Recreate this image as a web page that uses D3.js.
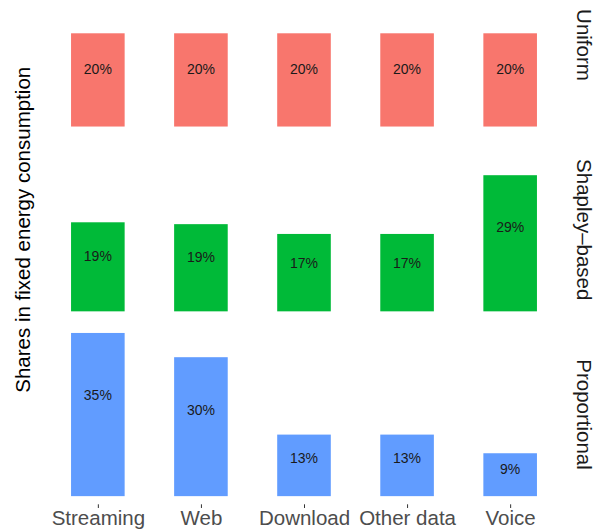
<!DOCTYPE html>
<html>
<head>
<meta charset="utf-8">
<script src="https://cdn.jsdelivr.net/npm/d3@7"></script>
<style>
  body { margin: 0; background: #fff; }
  text { font-family: "Liberation Sans", Arial, sans-serif; }
</style>
</head>
<body>
<svg id="chart"></svg>
<script>
// categories and facet rows
var services = ["Streaming", "Web", "Download", "Other data", "Voice"];
var methods = ["Uniform", "Shapley\u2013based", "Proportional"];
var colors = ["#F8766D", "#00BA38", "#619CFF"];

// shares
var uniform = [0.20, 0.20, 0.20, 0.20, 0.20];
var shapley = [0.191, 0.187, 0.166, 0.166, 0.292];
var proportional = [0.35, 0.298, 0.132, 0.132, 0.092];

var series = [uniform, shapley, proportional];

var config = {
  w: 597,
  h: 532,
  left: 36,
  right: 572,
  panelH: 179.5,
  gap: 5.3,
  firstTop: -44.8,
  barW: 0.52
};

var svg = d3.select("#chart")
  .attr("width", config.w)
  .attr("height", config.h);

// x positions like a discrete ggplot scale (0.6 expansion each side)
var x = d3.scalePoint()
  .domain(services)
  .range([config.left, config.right])
  .padding(0.6);

var bw = x.step() * config.barW;

// shared y scale, 5% expansion
var maxV = d3.max(series, function(s) { return d3.max(s); });
var pad = maxV * 0.05;
var y = d3.scaleLinear()
  .domain([-pad, maxV + pad])
  .range([config.panelH, 0]);

var fmt = d3.format(".0%");

methods.forEach(function(m, i) {
  var top = config.firstTop + i * (config.panelH + config.gap);
  var g = svg.append("g")
    .attr("transform", "translate(0," + top + ")");

  var rows = services.map(function(s, j) {
    return { name: s, value: series[i][j] };
  });

  g.selectAll("rect")
    .data(rows)
    .enter()
    .append("rect")
      .attr("x", function(d) { return x(d.name) - bw / 2; })
      .attr("y", function(d) { return y(d.value); })
      .attr("width", bw)
      .attr("height", function(d) { return y(0) - y(d.value); })
      .attr("fill", colors[i]);

  g.selectAll("text.lab")
    .data(rows)
    .enter()
    .append("text")
      .attr("class", "lab")
      .attr("x", function(d) { return x(d.name); })
      .attr("y", function(d) { return y(d.value * 0.62); })
      .attr("dy", "0.35em")
      .attr("text-anchor", "middle")
      .attr("fill", "#1a1a1a")
      .style("font-size", "14px")
      .text(function(d) { return fmt(d.value); });

  // strip label on the right
  g.append("text")
    .attr("transform", "translate(577," + (config.panelH / 2) + ") rotate(90)")
    .attr("text-anchor", "middle")
    .attr("fill", "#1a1a1a")
    .style("font-size", "20.5px")
    .text(m);

  // x axis only on the bottom panel
  if (i === methods.length - 1) {
    var axis = d3.axisBottom(x).tickSize(3.7).tickPadding(2);
    var ax = g.append("g")
      .attr("transform", "translate(0," + config.panelH + ")")
      .call(axis);
    ax.select(".domain").remove();
    ax.selectAll("line").attr("stroke", "#333333");
    ax.selectAll("text")
      .attr("fill", "#4d4d4d")
      .style("font-size", "20.5px")
      .style("font-family", "'Liberation Sans', Arial, sans-serif");
  }
});

// y axis title
var midY = config.firstTop + (methods.length * config.panelH + (methods.length - 1) * config.gap) / 2;
svg.append("text")
  .attr("transform", "translate(30," + midY + ") rotate(-90)")
  .attr("text-anchor", "middle")
  .attr("fill", "#000")
  .style("font-size", "20.5px")
  .text("Shares in fixed energy consumption");
</script>
</body>
</html>
